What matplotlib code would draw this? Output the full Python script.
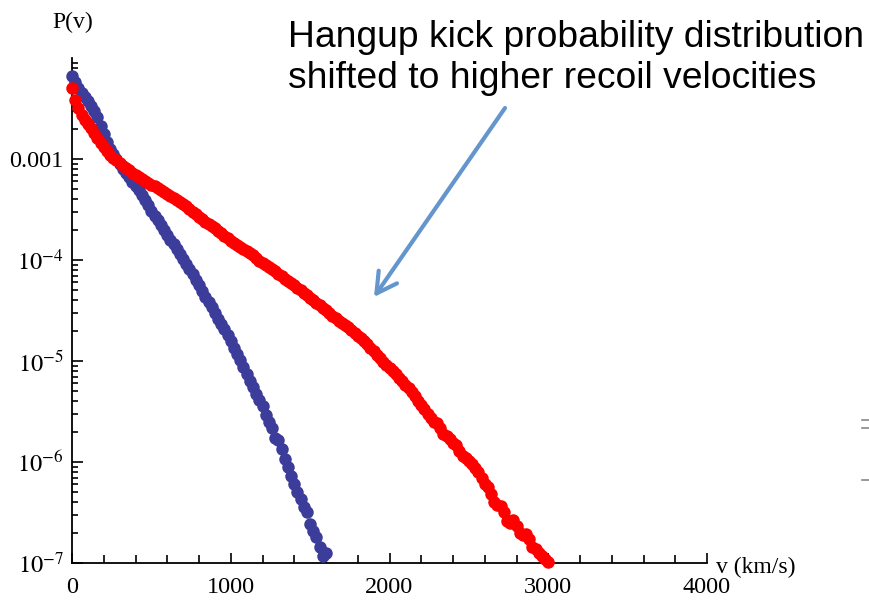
import numpy as np
import matplotlib
matplotlib.use('Agg')
import matplotlib.pyplot as plt
from matplotlib.lines import Line2D
from matplotlib.patches import FancyArrowPatch
from matplotlib.ticker import FixedLocator, LogLocator, MultipleLocator, NullFormatter

# recoil velocity bins (km/s) and log10 P(v)
blue_v = np.arange(0, 1601, 20)
blue_log_p = [
    -2.18, -2.24, -2.30, -2.35, -2.39, -2.43, -2.48, -2.52, -2.58, -2.67,
    -2.75, -2.83, -2.90, -2.95, -3.00, -3.05, -3.10, -3.14, -3.18, -3.23,
    -3.27, -3.31, -3.36, -3.41, -3.46, -3.51, -3.56, -3.60, -3.65, -3.70,
    -3.75, -3.80, -3.84, -3.89, -3.94, -3.99, -4.04, -4.09, -4.14, -4.20,
    -4.25, -4.31, -4.37, -4.42, -4.47, -4.52, -4.58, -4.63, -4.68, -4.74,
    -4.80, -4.87, -4.93, -4.99, -5.06, -5.13, -5.20, -5.26, -5.33, -5.39,
    -5.45, -5.53, -5.60, -5.66, -5.76, -5.78, -5.87, -5.97, -6.05, -6.14,
    -6.22, -6.30, -6.37, -6.45, -6.50, -6.61, -6.68, -6.74, -6.84, -6.93,
    -6.90,
]

red_v = np.arange(0, 3001, 20)
red_log_p = [
    -2.30, -2.42, -2.50, -2.56, -2.61, -2.65, -2.69, -2.74, -2.79, -2.84,
    -2.88, -2.92, -2.96, -2.99, -3.01, -3.04, -3.07, -3.09, -3.11, -3.14,
    -3.16, -3.18, -3.20, -3.22, -3.24, -3.255, -3.27, -3.29, -3.31, -3.33,
    -3.35, -3.37, -3.39, -3.41, -3.43, -3.45, -3.47, -3.495, -3.52, -3.545,
    -3.57, -3.595, -3.62, -3.64, -3.66, -3.685, -3.71, -3.735, -3.76, -3.785,
    -3.81, -3.83, -3.85, -3.87, -3.89, -3.91, -3.93, -3.955, -3.98, -4.005,
    -4.03, -4.05, -4.07, -4.09, -4.11, -4.135, -4.16, -4.185, -4.21, -4.23,
    -4.25, -4.275, -4.30, -4.325, -4.35, -4.375, -4.40, -4.425, -4.45, -4.475,
    -4.50, -4.525, -4.55, -4.575, -4.60, -4.62, -4.64, -4.665, -4.69, -4.72,
    -4.75, -4.775, -4.80, -4.835, -4.87, -4.905, -4.94, -4.975, -5.01, -5.04,
    -5.07, -5.10, -5.13, -5.165, -5.20, -5.235, -5.27, -5.31, -5.35, -5.395,
    -5.44, -5.48, -5.52, -5.56, -5.60, -5.61, -5.66, -5.72, -5.74, -5.775,
    -5.81, -5.83, -5.89, -5.94, -5.96, -5.99, -6.02, -6.06, -6.10, -6.16,
    -6.22, -6.25, -6.32, -6.40, -6.43, -6.44, -6.50, -6.58, -6.60, -6.57,
    -6.63, -6.70, -6.72, -6.71, -6.76, -6.84, -6.86, -6.90, -6.93, -6.96,
    -6.99,
]

y_ticks = [1e-7, 1e-6, 1e-5, 1e-4, 1e-3]
y_labels = [r'$10^{-7}$', r'$10^{-6}$', r'$10^{-5}$', r'$10^{-4}$', '0.001']
x_ticks = [0, 1000, 2000, 3000, 4000]

plt.rcParams['font.family'] = ['Liberation Serif', 'DejaVu Serif']
plt.rcParams['mathtext.fontset'] = 'stix'

fig = plt.figure(figsize=(8.69, 6.04), dpi=100)
ax = fig.add_axes([72 / 869, 41 / 604, 635 / 869, 505 / 604])

ax.plot(blue_v, 10 ** np.array(blue_log_p), 'o', color='#3c3c9a', ms=9,
        mec='none', clip_on=False, zorder=3)
ax.plot(red_v, 10 ** np.array(red_log_p), 'o', color='#ff0000', ms=9,
        mec='none', clip_on=False, zorder=4)

ax.set_yscale('log')
ax.set_xlim(0, 4000)
ax.set_ylim(1e-7, 1e-2)

for side in ['top', 'right']:
    ax.spines[side].set_visible(False)
for side in ['left', 'bottom']:
    ax.spines[side].set_linewidth(1.3)

ax.xaxis.set_major_locator(FixedLocator(x_ticks))
ax.xaxis.set_minor_locator(MultipleLocator(200))
ax.yaxis.set_major_locator(FixedLocator(y_ticks))
ax.set_yticklabels(y_labels)
ax.yaxis.set_minor_locator(LogLocator(base=10, subs=range(2, 10), numticks=20))
ax.yaxis.set_minor_formatter(NullFormatter())

ax.tick_params(which='both', direction='in', width=1.2, labelsize=17.5)
ax.tick_params(axis='x', which='major', length=7, pad=10)
ax.tick_params(axis='x', which='minor', length=6)
ax.tick_params(axis='y', which='major', length=8, pad=6)
ax.tick_params(axis='y', which='minor', length=4)

fig.text(52 / 869, 1 - 22 / 604, 'P(v)', fontsize=17, va='center', ha='left')
fig.text(716 / 869, 1 - 567 / 604, 'v (km/s)', fontsize=17, va='center', ha='left')

fig.text(288 / 869, 1 - 47 / 604, 'Hangup kick probability distribution',
         family='Liberation Sans', fontsize=26.8, va='baseline', ha='left')
fig.text(288 / 869, 1 - 88 / 604, 'shifted to higher recoil velocities',
         family='Liberation Sans', fontsize=26.8, va='baseline', ha='left')

arrow = FancyArrowPatch((505 / 869, 1 - 108 / 604), (374 / 869, 1 - 297 / 604),
                        transform=fig.transFigure,
                        arrowstyle='->,head_length=0.72,head_width=0.4',
                        mutation_scale=20, lw=3, color='#6496cd',
                        shrinkA=0, shrinkB=0, capstyle='round')
fig.add_artist(arrow)

# bits of neighbouring slide content cut off at the right edge
for y_px in [420, 428, 480]:
    fig.add_artist(Line2D([862 / 869, 1.0], [1 - y_px / 604] * 2, color='#888888',
                          lw=1.2, transform=fig.transFigure))

fig.savefig('out.png', dpi=100)
